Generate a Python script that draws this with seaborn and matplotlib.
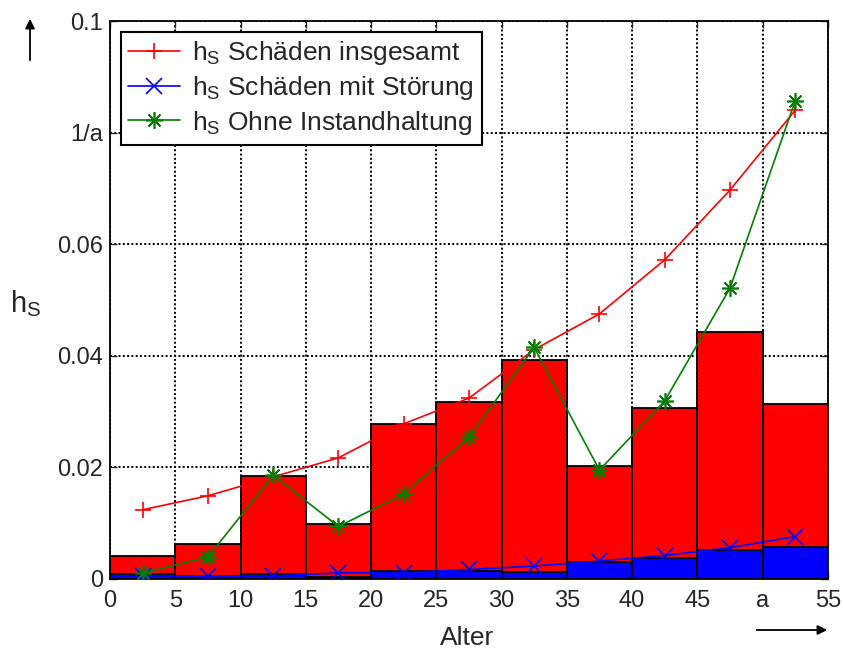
import numpy as np
import matplotlib
matplotlib.use("Agg")
import matplotlib.pyplot as plt
import seaborn as sns

sns.set_style("white")
plt.rcParams['font.family'] = ['Liberation Sans', 'DejaVu Sans']
plt.rcParams['mathtext.default'] = 'regular'

# data
bin_edges = [0, 5, 10, 15, 20, 25, 30, 35, 40, 45, 50, 55]
age_mid = [2.5, 7.5, 12.5, 17.5, 22.5, 27.5, 32.5, 37.5, 42.5, 47.5, 52.5]
bars_total = [0.0042, 0.0063, 0.0185, 0.0099, 0.0278, 0.0318, 0.0393,
              0.0203, 0.0307, 0.0443, 0.0313]
bars_fault = [0.0009, 0.0006, 0.0009, 0.0004, 0.0014, 0.0014, 0.0013,
              0.0031, 0.0037, 0.0052, 0.0058]
hs_total = [0.0124, 0.0149, 0.0183, 0.0217, 0.0278, 0.0324, 0.0411,
            0.0475, 0.0572, 0.0697, 0.0840]
hs_fault = [0.0005, 0.0005, 0.0005, 0.0011, 0.0011, 0.0017, 0.0023,
            0.0032, 0.0042, 0.0056, 0.0076]
hs_no_maint = [0.0011, 0.0039, 0.0186, 0.0094, 0.0152, 0.0254, 0.0415,
               0.0195, 0.0319, 0.0521, 0.0857]

x_ticks = [0, 5, 10, 15, 20, 25, 30, 35, 40, 45, 50, 55]
x_labels = ['0', '5', '10', '15', '20', '25', '30', '35', '40', '45', 'a', '55']
y_ticks = [0, 0.02, 0.04, 0.06, 0.08, 0.1]
y_labels = ['0', '0.02', '0.04', '0.06', '1/a', '0.1']

fig = plt.figure(figsize=(8.43, 6.51), dpi=100)
ax = fig.add_axes([0.1305, 0.1107, 0.8515, 0.857])

# histogram bars
sns.histplot(x=age_mid, weights=bars_total, bins=bin_edges, color='#ff0000',
             alpha=1, edgecolor='black', linewidth=1.3, ax=ax, zorder=2)
sns.histplot(x=age_mid, weights=bars_fault, bins=bin_edges, color='#0000ff',
             alpha=1, edgecolor='black', linewidth=1.3, ax=ax, zorder=2)

# lines
common = dict(linewidth=1.2, markersize=12, markeredgewidth=1.2, ax=ax, zorder=3)
sns.lineplot(x=age_mid, y=hs_total, color='#ff0000', marker='+',
             markeredgecolor='#ff0000', label='h$_S$ Schäden insgesamt', **common)
sns.lineplot(x=age_mid, y=hs_fault, color='#0000ff', marker='x',
             markeredgecolor='#0000ff', label='h$_S$ Schäden mit Störung', **common)
sns.lineplot(x=age_mid, y=hs_no_maint, color='#008000', marker=(8, 2, 0),
             markeredgecolor='#008000', label='h$_S$ Ohne Instandhaltung', **common)

ax.set_xlim(0, 55)
ax.set_ylim(0, 0.1)
ax.set_xticks(x_ticks)
ax.set_xticklabels(x_labels)
ax.set_yticks(y_ticks)
ax.set_yticklabels(y_labels)
ax.tick_params(direction='in', length=5, width=1, labelsize=17, top=True, right=True,
               bottom=True, left=True)
ax.tick_params(axis='x', pad=8)
ax.tick_params(axis='y', pad=5)
ax.set_axisbelow(True)
ax.grid(True, color='black', linestyle=(0, (1, 1.2)), linewidth=1.4)
for s in ax.spines.values():
    s.set_color('black')
    s.set_linewidth(1.3)

ax.set_xlabel('Alter', fontsize=19)
ax.xaxis.set_label_coords(0.497, -0.106)
ax.xaxis.label.set_va('center')
ax.set_ylabel('h$_S$', fontsize=21, rotation=0)
ax.yaxis.set_label_coords(-0.118, 0.494)
ax.yaxis.label.set_va('center')
ax.yaxis.label.set_ha('center')

leg = ax.legend(loc='upper left', fontsize=19, frameon=True, fancybox=False,
                framealpha=1, edgecolor='black', handlelength=1.95,
                handletextpad=0.45, borderaxespad=0.4, labelspacing=0.25,
                borderpad=0.3)
leg.get_frame().set_linewidth(1.5)

# direction arrows
fig.patches.append(matplotlib.patches.FancyArrowPatch(
    (30 / 843, 1 - 63 / 651), (30 / 843, 1 - 16 / 651), transform=fig.transFigure,
    arrowstyle='-|>', mutation_scale=14, color='black', linewidth=1.3))
fig.patches.append(matplotlib.patches.FancyArrowPatch(
    (754 / 843, 1 - 630 / 651), (830 / 843, 1 - 630 / 651), transform=fig.transFigure,
    arrowstyle='-|>', mutation_scale=14, color='black', linewidth=1.3))

plt.savefig('out.png', dpi=100)
plt.close()
